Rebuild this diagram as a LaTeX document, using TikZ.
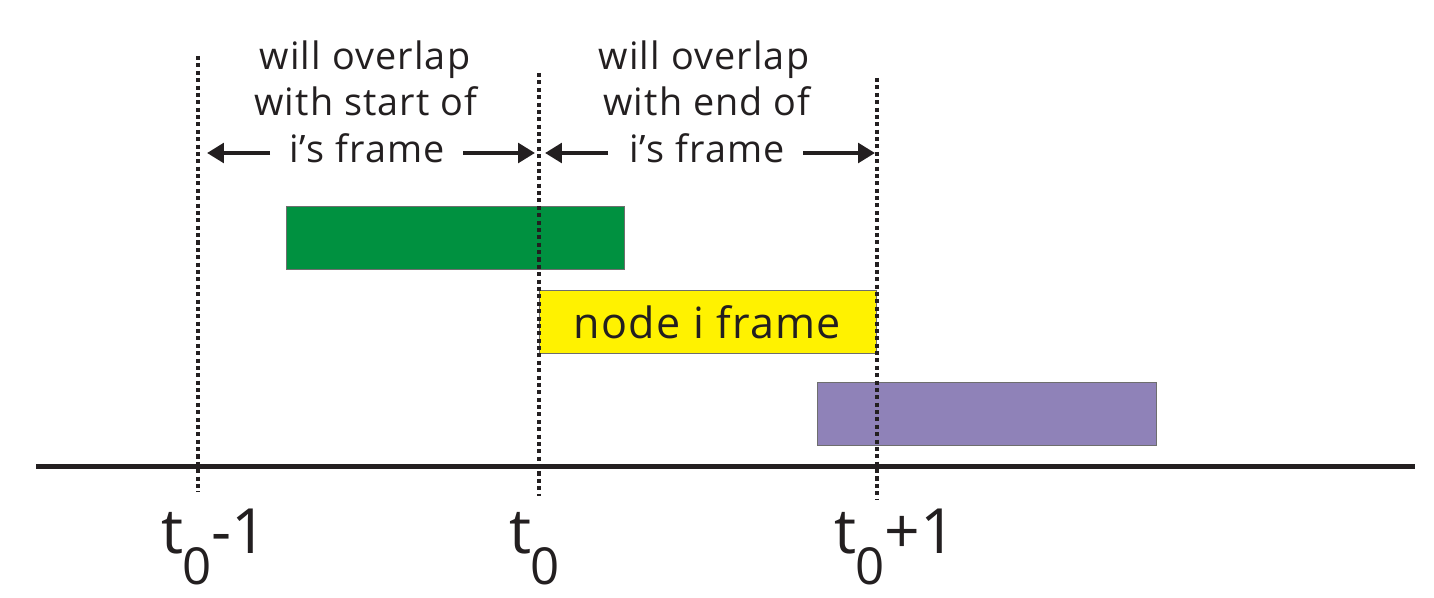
\documentclass[tikz,border=0pt]{standalone}
\usepackage{fontspec}
\setmainfont{Open Sans}
\newfontfamily\spaced[LetterSpace=3]{Open Sans}
\usetikzlibrary{arrows.meta}
\definecolor{ink}{RGB}{35,31,32}
\definecolor{gbar}{RGB}{0,145,64}
\definecolor{ybar}{RGB}{255,242,0}
\definecolor{pbar}{RGB}{143,130,184}
\definecolor{edge}{RGB}{110,110,110}
\newcommand\tsub[1]{t\kern-0.5pt\raisebox{-18pt}{\fontsize{29pt}{29pt}\selectfont 0}#1}
\tikzset{
  bar/.style={draw=edge, line width=0.5pt, minimum width=#1*0.02cm, minimum height=63*0.02cm, inner sep=0pt, anchor=center},
  dotline/.style={ink, line width=2.4pt, dash pattern=on 2.3pt off 1.9pt},
  axis/.style={ink, line width=2.8pt},
  arr/.style={ink, line width=2.4pt, -{Triangle[length=9.6pt,width=11pt]}},
  toptext/.style={font=\spaced\fontsize{21.5pt}{26pt}\selectfont, text=ink, anchor=base, inner sep=0pt},
  bartext/.style={font=\spaced\fontsize{24.5pt}{30pt}\selectfont, text=ink},
  tlab/.style={font=\fontsize{35.5pt}{40pt}\selectfont, text=ink, anchor=base west, inner sep=0pt}
}
\begin{document}
\begin{tikzpicture}[x=0.02cm, y=-0.02cm]
\useasboundingbox (0,0) rectangle (1434,598);
% bars
\node[bar=338, fill=gbar] (green) at (455,237.5) {};
\node[bar=337, fill=ybar, bartext] (yellow) at (707.5,322) {node i frame};
\node[bar=339, fill=pbar] (purple) at (986.5,414) {};
% axis
\coordinate (axL) at (36,466.5);
\coordinate (axR) at (1415,466.5);
\draw[axis] (axL) -- (axR);
% dotted verticals
\coordinate (v1t) at (198,56);  \coordinate (v1b) at (198,492);
\coordinate (v2t) at (539,73);  \coordinate (v2b) at (539,496);
\coordinate (v3t) at (877,78);  \coordinate (v3b) at (877,499);
\draw[dotline] (v1t) -- (v1b);
\draw[dotline] (v2t) -- (v2b);
\draw[dotline] (v3t) -- (v3b);
% top texts
\node[toptext] (a1) at (365,70) {will overlap};
\node[toptext] (a2) at (366,116) {with start of};
\node[toptext] (a3) at (367,163) {i’s frame};
\node[toptext] (b1) at (704,70) {will overlap};
\node[toptext] (b2) at (707,116) {with end of};
\node[toptext] (b3) at (707,163) {i’s frame};
% arrows
\coordinate (a3l) at (270,153); \coordinate (a3lt) at (207,153);
\coordinate (a3r) at (463,153); \coordinate (a3rt) at (535,153);
\coordinate (b3l) at (608,153); \coordinate (b3lt) at (545,153);
\coordinate (b3r) at (803,153); \coordinate (b3rt) at (875,153);
\draw[arr] (a3l) -- (a3lt);
\draw[arr] (a3r) -- (a3rt);
\draw[arr] (b3l) -- (b3lt);
\draw[arr] (b3r) -- (b3rt);
% time labels
\node[tlab] (t1) at (161,553) {\tsub{-1}};
\node[tlab] (t2) at (509,553) {\tsub{}};
\node[tlab] (t3) at (834,553) {\tsub{+1}};
\end{tikzpicture}
\end{document}
